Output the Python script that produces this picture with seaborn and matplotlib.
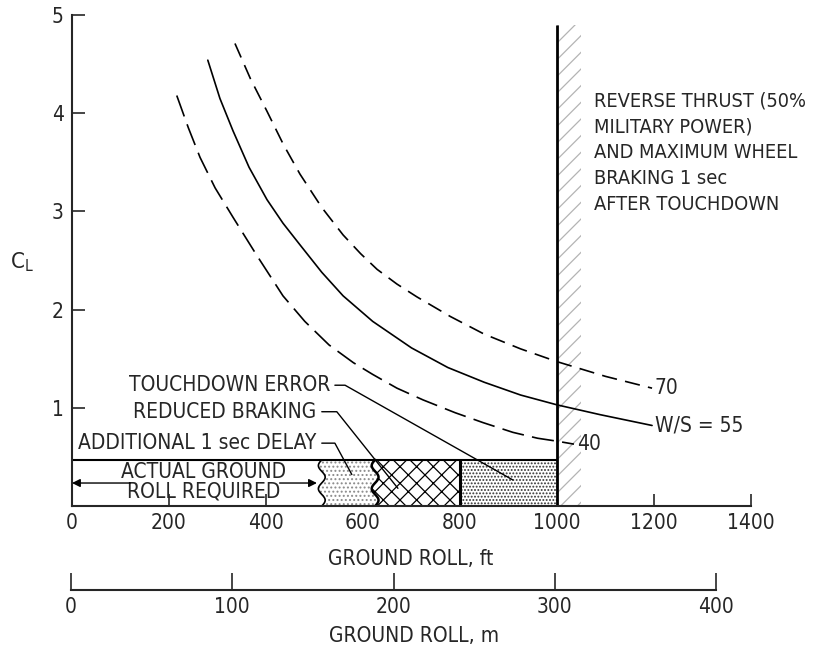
import numpy as np
import pandas as pd
import matplotlib
matplotlib.use("Agg")
import matplotlib.pyplot as plt
import seaborn as sns

# Lift coefficient against ground roll for three wing loadings (W/S)
ws40_ft = [216, 240, 264, 295, 332, 380, 435, 480, 530, 580, 620, 670, 724,
           790, 847, 909, 960, 1000, 1035]
ws40_cl = [4.18, 3.85, 3.55, 3.24, 2.94, 2.56, 2.14, 1.88, 1.64, 1.46, 1.34,
           1.20, 1.08, 0.95, 0.85, 0.75, 0.69, 0.66, 0.63]
ws55_ft = [280, 305, 332, 365, 402, 435, 470, 515, 559, 620, 700, 775, 850,
           925, 1000, 1089, 1196]
ws55_cl = [4.54, 4.15, 3.82, 3.45, 3.12, 2.88, 2.66, 2.38, 2.14, 1.88, 1.61,
           1.41, 1.26, 1.13, 1.03, 0.93, 0.82]
ws70_ft = [336, 368, 402, 436, 470, 515, 559, 595, 629, 670, 711, 780, 850,
           925, 1000, 1100, 1196]
ws70_cl = [4.71, 4.35, 4.02, 3.68, 3.38, 3.04, 2.76, 2.57, 2.41, 2.26, 2.13,
           1.93, 1.75, 1.60, 1.47, 1.32, 1.20]
curve_names = ["40", "55", "70"]
curve_labels = ["40", "W/S = 55", "70"]

# Ground-roll build-up bar (ft): actual roll, delay, reduced braking, touchdown error
roll_edges_ft = [515, 625, 800, 1000]
roll_bar_top = 0.47
segment_labels = ["ADDITIONAL 1 sec DELAY", "REDUCED BRAKING", "TOUCHDOWN ERROR"]
actual_label = "ACTUAL GROUND\nROLL REQUIRED"

# Reverse-thrust limit line
limit_ft = 1000
limit_top = 4.9
limit_note = ("REVERSE THRUST (50%\nMILITARY POWER)\nAND MAXIMUM WHEEL\n"
              "BRAKING 1 sec\nAFTER TOUCHDOWN")

x_ticks_ft = [0, 200, 400, 600, 800, 1000, 1200, 1400]
y_ticks = [1, 2, 3, 4, 5]
m_ticks = [0, 100, 200, 300, 400]

sns.set_style("ticks")
plt.rcParams["font.family"] = ["DejaVu Sans"]
plt.rcParams["font.stretch"] = "condensed"
plt.rcParams["lines.scale_dashes"] = False
plt.rcParams["hatch.linewidth"] = 0.9
FS = 15

fig = plt.figure(figsize=(8.16, 6.52), dpi=100)
ax = fig.add_axes([72 / 816, 146 / 652, (751 - 72) / 816, (506 - 15) / 652])

curves = pd.concat([
    pd.DataFrame({"ft": f, "cl": c, "ws": n})
    for f, c, n in zip([ws40_ft, ws55_ft, ws70_ft],
                       [ws40_cl, ws55_cl, ws70_cl], curve_names)
], ignore_index=True)
sns.lineplot(data=curves, x="ft", y="cl", style="ws", color="black",
             dashes={"40": (16, 6), "55": "", "70": (11, 6)},
             sort=False, estimator=None, legend=False, lw=1.2, ax=ax)

for fts, cls, lab in zip([ws40_ft, ws55_ft, ws70_ft],
                         [ws40_cl, ws55_cl, ws70_cl], curve_labels):
    ax.text(fts[-1] + 6, cls[-1], lab, fontsize=FS, va="center", ha="left")

# Limit line and its hatched side
ax.fill_betweenx([0, limit_top], limit_ft, limit_ft + 50, facecolor="none",
                 edgecolor="#b4b4b4", hatch="//", lw=0)
ax.vlines(limit_ft, 0, limit_top, color="black", lw=2.0)
ax.text(1076, 4.22, limit_note, fontsize=14.3, va="top", ha="left",
        linespacing=1.45)

# Ground-roll bar with wavy breaks
yy = np.linspace(0, roll_bar_top, 80)
wave = 7 * np.sin(yy / roll_bar_top * 4 * np.pi)
e0, e1, e2, e3 = roll_edges_ft
ax.fill_betweenx(yy, e0 + wave, e1 + wave, facecolor="white",
                 edgecolor="#8a8a8a", hatch="....", lw=0)
ax.fill_betweenx(yy, e1 + wave, e2, facecolor="white",
                 edgecolor="black", hatch="xx", lw=0)
ax.fill_betweenx(yy, e2, e3, facecolor="white",
                 edgecolor="#333333", hatch=".....", lw=0)
ax.plot(e0 + wave, yy, color="black", lw=1.2)
ax.plot(e1 + wave, yy, color="black", lw=1.8)
ax.vlines(e2, 0, roll_bar_top, color="black", lw=2.2)
ax.hlines(roll_bar_top, 0, e3, color="black", lw=1.5)

# Actual ground roll arrow
arrow_y = 0.234
ax.text(272, 0.245, actual_label, fontsize=FS, ha="center", va="center",
        linespacing=1.0)
ax.annotate("", xy=(0, arrow_y), xytext=(120, arrow_y),
            arrowprops=dict(arrowstyle="-|>", color="black", lw=1.0,
                            mutation_scale=12, shrinkA=0, shrinkB=0))
ax.annotate("", xy=(e0 - 10, arrow_y), xytext=(428, arrow_y),
            arrowprops=dict(arrowstyle="-|>", color="black", lw=1.0,
                            mutation_scale=12, shrinkA=0, shrinkB=0))

# Segment labels with leader lines
ax.text(503, 0.64, segment_labels[0], fontsize=FS, ha="right", va="center")
ax.plot([515, 542, 577], [0.64, 0.64, 0.32], color="black", lw=1.0)
ax.text(503, 0.96, segment_labels[1], fontsize=FS, ha="right", va="center")
ax.plot([515, 546, 672], [0.96, 0.96, 0.18], color="black", lw=1.0)
ax.text(532, 1.23, segment_labels[2], fontsize=FS, ha="right", va="center")
ax.plot([542, 563, 909], [1.23, 1.23, 0.265], color="black", lw=1.0)

# Axes styling
ax.set_xlim(0, 1400)
ax.set_ylim(0, 5)
ax.set_xticks(x_ticks_ft)
ax.set_yticks(y_ticks)
ax.tick_params(direction="in", length=9, width=1.2, labelsize=FS)
ax.tick_params(axis="x", pad=5)
ax.tick_params(axis="y", pad=6)
sns.despine(ax=ax)
for s in ["left", "bottom"]:
    ax.spines[s].set_linewidth(1.5)
ax.set_xlabel("GROUND ROLL, ft", fontsize=FS)
ax.xaxis.set_label_coords(411 / 816, 1 - 549 / 652, transform=fig.transFigure)
ax.set_ylabel(r"C$_\mathregular{L}$", fontsize=FS + 1, rotation=0)
ax.yaxis.set_label_coords(22 / 816, 1 - 262 / 652, transform=fig.transFigure)
ax.yaxis.label.set_va("center")

# Metric ground-roll scale
ax2 = fig.add_axes([71 / 816, 1 - 590 / 652, (716 - 71) / 816, 0.0001])
ax2.set_xlim(0, 400)
ax2.set_xticks(m_ticks)
ax2.set_yticks([])
ax2.patch.set_visible(False)
for s in ["top", "right", "left"]:
    ax2.spines[s].set_visible(False)
ax2.spines["bottom"].set_linewidth(1.5)
ax2.tick_params(axis="x", direction="in", length=12, width=1.2,
                labelsize=FS, pad=5)
ax2.set_xlabel("GROUND ROLL, m", fontsize=FS)
ax2.xaxis.set_label_coords(414 / 816, 1 - 626 / 652, transform=fig.transFigure)

fig.savefig("out.png", dpi=100)
